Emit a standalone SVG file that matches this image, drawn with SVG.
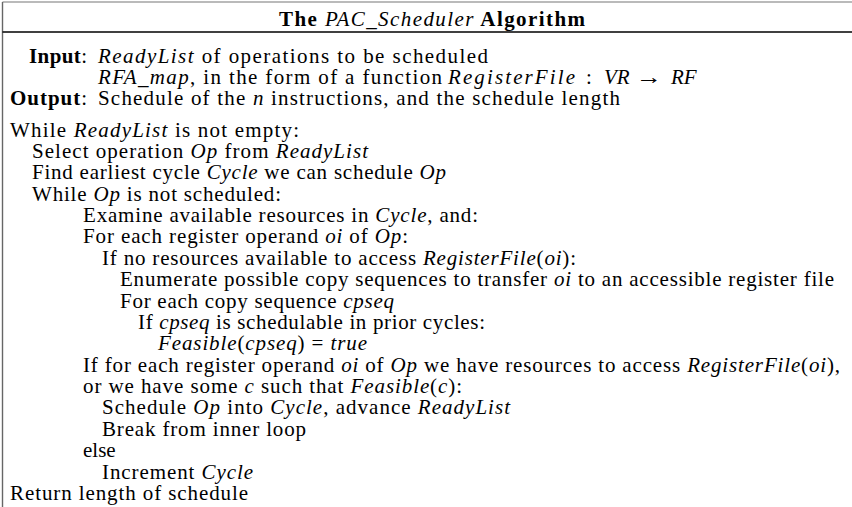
<svg xmlns="http://www.w3.org/2000/svg" width="852" height="507" viewBox="0 0 852 507">
<style>
text{font-family:"Liberation Serif","Times New Roman",serif;font-size:21px;fill:#000}
.i{font-style:italic}
.b{font-weight:bold}
</style>
<rect x="0" y="0" width="852" height="507" fill="#fff"/>
<g id="frame" fill="none">
<line x1="2.5" y1="2" x2="852" y2="2" stroke="#777" stroke-width="1.2"/>
<line x1="2.5" y1="2" x2="2.5" y2="507" stroke="#666" stroke-width="1.4"/>
<line x1="2.5" y1="32" x2="852" y2="32" stroke="#000" stroke-width="1.6"/>
</g>
<g id="title"><text x="432" y="26" text-anchor="middle" textLength="306" lengthAdjust="spacing"><tspan class="b">The </tspan><tspan class="i">PAC_Scheduler</tspan><tspan class="b"> Algorithm</tspan></text></g>
<g id="header">
<text x="29" y="63" textLength="58" lengthAdjust="spacing"><tspan class="b">Input</tspan>:</text>
<text x="98" y="63" textLength="390" lengthAdjust="spacing"><tspan class="i">ReadyList</tspan> of operations to be scheduled</text>
<text x="98" y="84" textLength="344" lengthAdjust="spacing"><tspan class="i">RFA_map</tspan>, in the form of a function</text>
<text class="i" x="448" y="84" textLength="127" lengthAdjust="spacing">RegisterFile</text>
<text x="586" y="84">:</text>
<text class="i" x="604" y="84">VR</text>
<text x="636" y="84" textLength="26" lengthAdjust="spacingAndGlyphs">→</text>
<text class="i" x="671" y="84">RF</text>
<text x="10" y="105" textLength="77" lengthAdjust="spacing"><tspan class="b">Output</tspan>:</text>
<text x="98" y="105" textLength="522" lengthAdjust="spacing">Schedule of the <tspan class="i">n</tspan> instructions, and the schedule length</text>
</g>
<g id="body">
<text x="10" y="136.5" textLength="289" lengthAdjust="spacing">While <tspan class="i">ReadyList</tspan> is not empty:</text>
<text x="32" y="157.9" textLength="336" lengthAdjust="spacing">Select operation <tspan class="i">Op</tspan> from <tspan class="i">ReadyList</tspan></text>
<text x="32" y="179.3" textLength="414" lengthAdjust="spacing">Find earliest cycle <tspan class="i">Cycle</tspan> we can schedule <tspan class="i">Op</tspan></text>
<text x="32" y="200.6" textLength="249" lengthAdjust="spacing">While <tspan class="i">Op</tspan> is not scheduled:</text>
<text x="83" y="222" textLength="395" lengthAdjust="spacing">Examine available resources in <tspan class="i">Cycle</tspan>, and:</text>
<text x="83" y="243.4" textLength="325" lengthAdjust="spacing">For each register operand <tspan class="i">oi</tspan> of <tspan class="i">Op</tspan>:</text>
<text x="102" y="264.8" textLength="474" lengthAdjust="spacing">If no resources available to access <tspan class="i">RegisterFile</tspan>(<tspan class="i">oi</tspan>):</text>
<text x="120" y="286.2" textLength="714" lengthAdjust="spacing">Enumerate possible copy sequences to transfer <tspan class="i">oi</tspan> to an accessible register file</text>
<text x="120" y="307.5" textLength="274" lengthAdjust="spacing">For each copy sequence <tspan class="i">cpseq</tspan></text>
<text x="138" y="328.9" textLength="347" lengthAdjust="spacing">If <tspan class="i">cpseq</tspan> is schedulable in prior cycles:</text>
<text x="158" y="350.3" textLength="209" lengthAdjust="spacing"><tspan class="i">Feasible</tspan>(<tspan class="i">cpseq</tspan>) = <tspan class="i">true</tspan></text>
<text x="83" y="371.7" textLength="757" lengthAdjust="spacing">If for each register operand <tspan class="i">oi</tspan> of <tspan class="i">Op</tspan> we have resources to access <tspan class="i">RegisterFile</tspan>(<tspan class="i">oi</tspan>),</text>
<text x="83" y="393.1" textLength="379" lengthAdjust="spacing">or we have some <tspan class="i">c</tspan> such that <tspan class="i">Feasible</tspan>(<tspan class="i">c</tspan>):</text>
<text x="102" y="414.4" textLength="408" lengthAdjust="spacing">Schedule <tspan class="i">Op</tspan> into <tspan class="i">Cycle</tspan>, advance <tspan class="i">ReadyList</tspan></text>
<text x="102" y="435.8" textLength="204" lengthAdjust="spacing">Break from inner loop</text>
<text x="83" y="457.2">else</text>
<text x="102" y="478.6" textLength="151" lengthAdjust="spacing">Increment <tspan class="i">Cycle</tspan></text>
<text x="10" y="500" textLength="238" lengthAdjust="spacing">Return length of schedule</text>
</g>
</svg>
